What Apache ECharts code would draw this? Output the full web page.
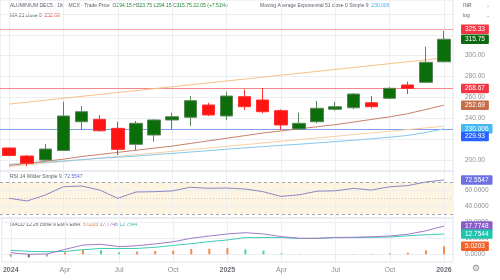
<!DOCTYPE html>
<html><head><meta charset="utf-8">
<script src="https://cdn.jsdelivr.net/npm/echarts@6/dist/echarts.min.js"></script>
<style>html,body{margin:0;padding:0;background:#fff}#c{width:500px;height:280px}</style>
</head><body><div id="c"></div>
<script>
// ---------- data ----------
const months = ['2024-01','2024-02','2024-03','2024-04','2024-05','2024-06','2024-07','2024-08','2024-09','2024-10','2024-11','2024-12',
  '2025-01','2025-02','2025-03','2025-04','2025-05','2025-06','2025-07','2025-08','2025-09','2025-10','2025-11','2025-12','2026-01'];
// open, high, low, close
const opens  = [211.7,204.0,200.2,209.3,236.8,239.1,230.5,215.2,224.1,238.5,241.1,252.8,242.3,260.8,257.6,247.4,229.9,236.8,248.7,250.2,255.0,259.2,272.0,274.5,294.15];
const highs  = [212.0,205.0,215.5,256.0,251.9,243.3,236.8,237.5,239.4,245.5,261.4,255.0,265.6,267.8,268.8,248.7,245.5,256.7,256.0,264.3,261.4,270.0,275.1,308.6,323.75];
const lows   = [203.8,194.4,199.2,208.8,228.9,227.3,205.0,209.8,217.7,229.6,232.7,242.3,238.5,248.0,244.9,228.9,228.9,235.3,247.4,248.7,249.7,258.6,263.3,273.8,294.15];
const closes = [204.5,197.0,210.7,242.3,246.4,228.2,210.4,235.3,238.5,241.6,257.0,243.3,261.4,251.2,246.4,233.7,235.3,249.7,251.2,263.3,251.2,268.8,268.67,293.7,315.75];
const ma21   = [195.0,197.0,199.0,201.0,203.5,205.5,207.5,209.5,211.5,213.5,216.0,218.5,221.0,223.5,226.0,228.0,230.0,232.0,234.0,236.5,239.0,241.5,244.5,248.5,252.69];
const ema51  = [196.0,197.0,198.0,199.2,200.5,201.8,202.9,204.0,205.2,206.5,207.8,209.1,210.5,211.8,213.0,214.2,215.3,216.5,217.8,219.1,220.5,222.0,223.7,226.5,230.006];
const trendUpper = [253.7, 297.9];   // at first and last month
const trendLower = [194.0, 232.5];
const levelLines = [325.33, 268.67, 229.93];
const rsi    = [49.6,46.3,53.8,64.1,65.0,60.0,49.6,57.5,57.9,58.8,63.4,62.1,62.5,61.3,58.0,52.0,54.0,58.5,59.0,62.0,60.0,64.0,65.5,70.0,72.5547];
const macd   = [1.0,0.0,0.2,3.1,5.8,6.3,4.8,5.4,6.5,7.9,10.1,11.5,12.8,13.6,12.8,11.1,10.1,10.0,10.6,10.7,11.0,11.5,12.6,14.8,17.7748];
const signal = [2.5,1.9,1.6,1.8,2.9,3.7,3.6,3.7,4.4,5.6,6.7,8.0,9.0,10.5,10.5,10.5,9.9,10.1,10.5,10.5,10.7,10.9,11.6,12.3,12.7544];
const hist   = [-1.5,-1.9,-1.4,1.3,2.9,2.6,1.2,1.7,2.1,2.3,3.4,3.5,3.8,3.1,2.3,0.6,0.2,-0.1,0.1,0.2,0.3,0.6,1.0,2.5,5.0203];
const priceTicks = [200,220,240,260,280,300,320,340];
const priceTickLabels = [200,240,260,280,300];
const rsiTicks = [40,60];
const macdTicks = [0,10,20];
const xTickMonths = ['2024-01','2024-04','2024-07','2024-10','2025-01','2025-04','2025-07','2025-10','2026-01'];
const xTickLabels = ['2024','Apr','Jul','Oct','2025','Apr','Jul','Oct','2026'];

// ---------- chart ----------
const n = months.length, last = n - 1;
const FONT = 'Liberation Sans';
const GRIDC = '#eceef2';
const candleData = months.map((m,i)=>[opens[i],closes[i],lows[i],highs[i]]);
const change = closes[last] - closes[last-1];
const pct = change / closes[last-1] * 100;
const NOLINE = {color:'rgba(0,0,0,0)', width:0};

function gridLine(v){ return {yAxis:v, lineStyle:{color:GRIDC, width:1, type:'solid'}}; }
function vLine(m){ return {xAxis:m, lineStyle:{color:GRIDC, width:1, type:'solid'}}; }
function tag(v, text, bg, dy){
  return {yAxis:v, lineStyle:NOLINE, label:{show:true, position:'end', distance:8, formatter:text, opacity:1,
    backgroundColor:bg, color:'#fff', fontSize:6.5, fontFamily:FONT, padding:[1.5,4,1,4], borderRadius:1, offset:[0,dy||0]}};
}
function tickLab(v, text){
  return {yAxis:v, lineStyle:NOLINE, label:{show:true, position:'end', distance:12, formatter:text, opacity:1,
    color:'#8a8d96', fontSize:6.5, fontFamily:FONT}};
}
const mlBase = {symbol:['none','none'], silent:true, animation:false};

const option = {
  animation:false,
  backgroundColor:'#fff',
  textStyle:{fontFamily:FONT},
  grid:[
    {left:0, top:0, width:453, height:171, show:true, borderColor:'#e3e5ea', borderWidth:1},
    {left:0, top:171, width:453, height:47, show:true, borderColor:'#e3e5ea', borderWidth:1},
    {left:0, top:218, width:453, height:44, show:true, borderColor:'#e3e5ea', borderWidth:1}
  ],
  xAxis:[0,1,2].map(g=>({
    type:'category', gridIndex:g, data:months, boundaryGap:true,
    axisLine:{show:false}, axisTick:{show:false}, splitLine:{show:false},
    axisLabel: g<2 ? {show:false} : {
      show:true, fontSize:7, color:'#8a8d96', margin:5, fontFamily:FONT,
      interval:(i,v)=>xTickMonths.indexOf(v)>=0,
      formatter:(v)=>{ const k=xTickMonths.indexOf(v); const t=xTickLabels[k]; return /^\d{4}$/.test(t)?'{y|'+t+'}':t; },
      rich:{y:{fontWeight:'bold', fontSize:7, color:'#6a6d76', fontFamily:FONT}}
    }
  })),
  yAxis:[
    {type:'value', gridIndex:0, min:189.67, max:353.3, position:'right', axisLine:{show:false}, axisTick:{show:false}, axisLabel:{show:false}, splitLine:{show:false}},
    {type:'value', gridIndex:1, min:25, max:83.75, position:'right', axisLine:{show:false}, axisTick:{show:false}, axisLabel:{show:false}, splitLine:{show:false}},
    {type:'value', gridIndex:2, min:-4.84, max:22.83, position:'right', axisLine:{show:false}, axisTick:{show:false}, axisLabel:{show:false}, splitLine:{show:false}}
  ],
  graphic:[
    {type:'text', left:10, top:3.5, style:{fontFamily:FONT, fontSize:5, fill:'#555',
      text:'{t|ALUMINIUM DEC5 · 1M · MCX · Trade Price}  {t|O}{g|'+opens[last].toFixed(2)+'} {t|H}{g|'+highs[last].toFixed(2)+'} {t|L}{g|'+lows[last].toFixed(2)+'} {t|C}{g|'+closes[last].toFixed(2)+'} {g|'+change.toFixed(2)+' (+'+pct.toFixed(2)+'%)}',
      rich:{t:{fill:'#5d606b', fontSize:5, fontFamily:FONT}, g:{fill:'#1b8a2e', fontSize:5, fontFamily:FONT}}}},
    {type:'text', left:260, top:3.5, style:{fontFamily:FONT, fontSize:5,
      text:'{t|Moving Average Exponential 51 close 0 Simple 9}  {b|'+ema51[last].toFixed(3)+'}',
      rich:{t:{fill:'#5d606b', fontSize:5, fontFamily:FONT}, b:{fill:'#3fb0ea', fontSize:5, fontFamily:FONT}}}},
    {type:'text', left:10, top:13.5, style:{fontFamily:FONT, fontSize:5,
      text:'{t|MA 21 close 0}  {r|'+ma21[last].toFixed(2)+'}',
      rich:{t:{fill:'#5d606b', fontSize:5, fontFamily:FONT}, r:{fill:'#e0503c', fontSize:5, fontFamily:FONT}}}},
    {type:'text', left:10, top:174.5, style:{fontFamily:FONT, fontSize:5,
      text:'{t|RSI 14 Wilder Simple 9}  {v|'+rsi[last].toFixed(4)+'}',
      rich:{t:{fill:'#5d606b', fontSize:5, fontFamily:FONT}, v:{fill:'#5b6bd8', fontSize:5, fontFamily:FONT}}}},
    {type:'text', left:10, top:222, style:{fontFamily:FONT, fontSize:5,
      text:'{t|MACD 12 26 close 9 EMA EMA}  {o|'+hist[last].toFixed(4)+'} {p|'+macd[last].toFixed(4)+'} {c|'+signal[last].toFixed(4)+'}',
      rich:{t:{fill:'#5d606b', fontSize:5, fontFamily:FONT}, o:{fill:'#f07a3c', fontSize:5, fontFamily:FONT}, p:{fill:'#8e6cc0', fontSize:5, fontFamily:FONT}, c:{fill:'#2fc0b0', fontSize:5, fontFamily:FONT}}}},
    {type:'text', left:463, top:3.5, style:{text:'INR', fontSize:5, fill:'#5d606b', fontFamily:FONT}},
    {type:'text', left:486, top:3, style:{text:'⌄', fontSize:5, fill:'#8a8d96', fontFamily:'DejaVu Sans'}},
    {type:'text', left:463, top:13.5, style:{text:'log', fontSize:5, fill:'#5d606b', fontFamily:FONT}},
    {type:'text', left:486, top:13, style:{text:'⌄', fontSize:5, fill:'#8a8d96', fontFamily:'DejaVu Sans'}},
    {type:'text', left:472, top:264, style:{text:'⚙', fontSize:9, fill:'#8a8d96', fontFamily:'DejaVu Sans'}}
  ],
  series:[
    // main grid lines
    {type:'line', xAxisIndex:0, yAxisIndex:0, data:[], z:1,
      markLine:Object.assign({}, mlBase, {z:1, label:{show:false},
        data: priceTicks.map(gridLine).concat(xTickMonths.map(vLine))
          .concat([{yAxis:levelLines[0], lineStyle:{color:'#f4a3a8', width:1, type:'solid'}},
                   {yAxis:levelLines[1], lineStyle:{color:'#f3868e', width:1, type:'solid'}},
                   {yAxis:levelLines[2], lineStyle:{color:'#7f9ef0', width:1, type:'solid'}}])})},
    {type:'line', xAxisIndex:0, yAxisIndex:0, data:[[months[0],trendUpper[0]],[months[last],trendUpper[1]]], showSymbol:false, symbol:'none', z:2,
      lineStyle:{color:'#f5c187', width:1}},
    {type:'line', xAxisIndex:0, yAxisIndex:0, data:[[months[0],trendLower[0]],[months[last],trendLower[1]]], showSymbol:false, symbol:'none', z:2,
      lineStyle:{color:'#f8cfa3', width:1}},
    {type:'line', xAxisIndex:0, yAxisIndex:0, data:ema51, showSymbol:false, symbol:'none', z:2,
      lineStyle:{color:'#86c8ee', width:1}},
    {type:'line', xAxisIndex:0, yAxisIndex:0, data:ma21, showSymbol:false, symbol:'none', z:2,
      lineStyle:{color:'#c9806a', width:1}},
    {type:'candlestick', xAxisIndex:0, yAxisIndex:0, data:candleData, barWidth:13, z:3,
      itemStyle:{color:'#0b6e0b', color0:'#ff1414', borderColor:'#5a875a', borderColor0:'#ff3030', borderWidth:1}},
    // main labels
    {type:'line', xAxisIndex:0, yAxisIndex:0, data:[], z:10,
      markLine:Object.assign({}, mlBase, {z:10,
        data: priceTickLabels.map(v=>tickLab(v, v.toFixed(2))).concat([
          tag(levelLines[0], levelLines[0].toFixed(2), '#f23645'),
          tag(closes[last], closes[last].toFixed(2), '#0d6a12'),
          tag(levelLines[1], levelLines[1].toFixed(2), '#f23645'),
          tag(ma21[last], ma21[last].toFixed(2), '#c66e4a'),
          tag(ema51[last], ema51[last].toFixed(3), '#45b8f2'),
          tag(levelLines[2], levelLines[2].toFixed(2), '#2962ff', 7.5)
        ])})},
    // RSI
    {type:'line', xAxisIndex:1, yAxisIndex:1, data:[], z:1,
      markArea:{silent:true, z:0, itemStyle:{color:'#fdf4e1'}, data:[[{yAxis:30},{yAxis:70}]]},
      markLine:Object.assign({}, mlBase, {z:1, label:{show:false},
        data: rsiTicks.map(gridLine).concat(xTickMonths.map(vLine)).concat([
          {yAxis:70, lineStyle:{color:'#a3a6af', width:1, type:[3,3]}},
          {yAxis:50, lineStyle:{color:'#c3c6cf', width:1, type:[1,2]}},
          {yAxis:30, lineStyle:{color:'#a3a6af', width:1, type:[3,3]}}])})},
    {type:'line', xAxisIndex:1, yAxisIndex:1, data:rsi, showSymbol:false, symbol:'none', z:3,
      lineStyle:{color:'#8e88c2', width:1}},
    {type:'line', xAxisIndex:1, yAxisIndex:1, data:[], z:10,
      markLine:Object.assign({}, mlBase, {z:10,
        data: rsiTicks.map(v=>tickLab(v, v.toFixed(4))).concat([tag(rsi[last], rsi[last].toFixed(4), '#6b70e4')])})},
    // MACD
    {type:'line', xAxisIndex:2, yAxisIndex:2, data:[], z:1,
      markLine:Object.assign({}, mlBase, {z:1, label:{show:false},
        data: macdTicks.map(gridLine).concat(xTickMonths.map(vLine))})},
    {type:'bar', xAxisIndex:2, yAxisIndex:2, data:hist, barWidth:2, z:2,
      itemStyle:{color:(p)=>{ const i=p.dataIndex, v=hist[i], pv=i>0?hist[i-1]:v;
        if (v>=0) return v>=pv ? '#f28a4e' : '#4fd0b6';
        return v<pv ? '#8a5a50' : '#b89a90'; }}},
    {type:'line', xAxisIndex:2, yAxisIndex:2, data:signal, showSymbol:false, symbol:'none', z:3,
      lineStyle:{color:'#3fcab8', width:1}},
    {type:'line', xAxisIndex:2, yAxisIndex:2, data:macd, showSymbol:false, symbol:'none', z:3,
      lineStyle:{color:'#a07cc8', width:1}},
    {type:'line', xAxisIndex:2, yAxisIndex:2, data:[], z:10,
      markLine:Object.assign({}, mlBase, {z:10,
        data: macdTicks.map(v=>tickLab(v, v.toFixed(4))).concat([
          tag(macd[last], macd[last].toFixed(4), '#8a5cc8'),
          tag(signal[last], signal[last].toFixed(4), '#22c4ae'),
          tag(hist[last], hist[last].toFixed(4), '#f4622c')])})}
  ]
};
const chart = echarts.init(document.getElementById('c'), null, {renderer:'canvas', width:500, height:280});
chart.setOption(option);
</script>
</body></html>
